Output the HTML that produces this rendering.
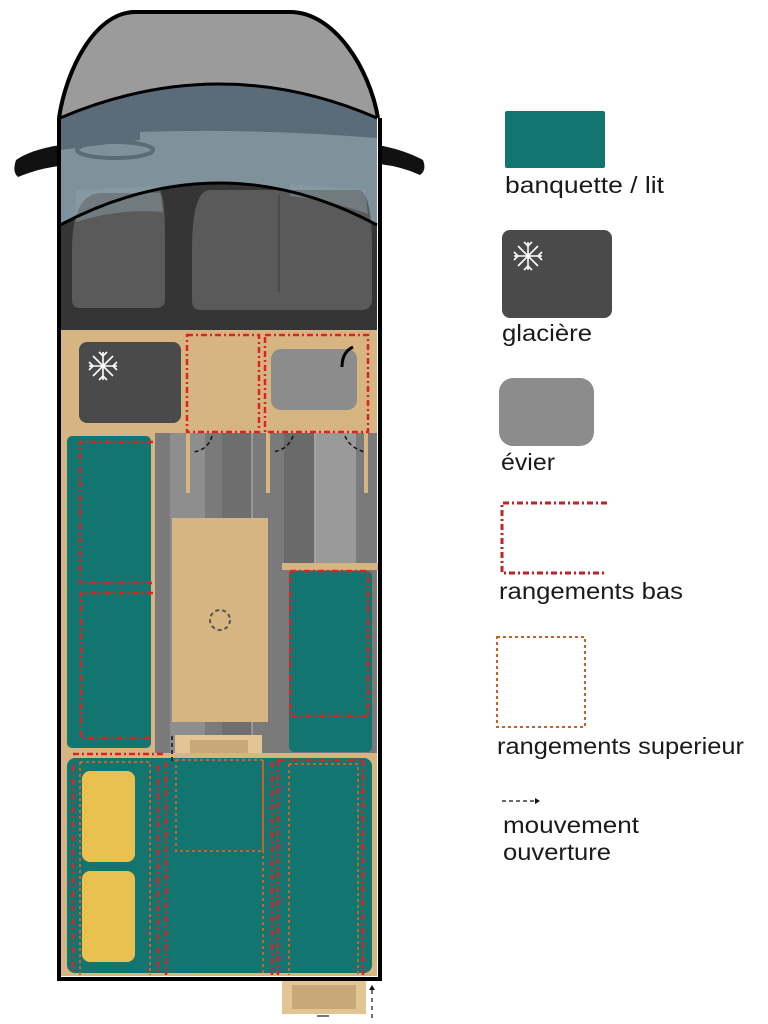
<!DOCTYPE html>
<html><head><meta charset="utf-8"><style>
html,body{margin:0;padding:0;background:#fff;}
svg{display:block;}
text{font-family:"Liberation Sans",sans-serif;fill:#1a1a1a;font-size:23px;}
</style></head><body>
<svg width="768" height="1024" viewBox="0 0 768 1024" xmlns="http://www.w3.org/2000/svg">
<defs>
<g id="flake" stroke="#fff" stroke-width="1.6" fill="none">
<line x1="-14" y1="0" x2="14" y2="0"/><line x1="0" y1="-14" x2="0" y2="14"/>
<line x1="-10" y1="-10" x2="10" y2="10"/><line x1="-10" y1="10" x2="10" y2="-10"/>
<path d="M-4 -14 L0 -10 L4 -14 M-4 14 L0 10 L4 14 M-14 -4 L-10 0 L-14 4 M14 -4 L10 0 L14 4"/>
</g>
</defs>
<path d="M60 145 Q30 150 16 160 Q12 172 18 177 Q40 168 60 166 Z" fill="#111"/>
<path d="M378 145 Q405 150 423 160 Q427 170 420 175 Q400 166 378 164 Z" fill="#111"/>
<path d="M60 330 L60 118 C66 70 95 12 135 12 L290 12 C335 12 368 70 377 118 L377 330 Z" fill="#353535"/>
<path d="M60 118 C66 70 95 12 135 12 L290 12 C335 12 368 70 377 118 Q220 50 60 118 Z" fill="#9b9b9b"/>
<path d="M60 118 Q220 50 377 118 L377 225 Q220 141 60 225 Z" fill="#5b6b77"/>
<path d="M60 150 L140 140 L140 132 Q250 128 377 138 L377 225 Q220 141 60 225 Z" fill="#7f929b"/>
<ellipse cx="115" cy="150" rx="38" ry="8" fill="none" stroke="#5b6b77" stroke-width="4"/>
<path d="M72 250 Q72 195 100 193 L160 193 Q165 195 165 240 L165 300 Q165 308 155 308 L80 308 Q72 308 72 300 Z" fill="#5a5a5a"/>
<path d="M192 250 Q192 190 210 190 L360 190 Q372 195 372 250 L372 300 Q372 310 360 310 L200 310 Q192 310 192 300 Z" fill="#5a5a5a"/>
<path d="M76 190 L160 186 L163 212 Q120 208 76 222 Z" fill="#8ea2aa" opacity="0.45"/>
<path d="M290 184 L365 190 L368 214 Q330 200 290 196 Z" fill="#8ea2aa" opacity="0.45"/>
<line x1="279" y1="195" x2="279" y2="292" stroke="#444" stroke-width="1.5"/>
<path d="M60 118 Q220 50 377 118" fill="none" stroke="#000" stroke-width="3"/>
<path d="M60 225 Q220 141 377 225" fill="none" stroke="#000" stroke-width="3"/>
<rect x="61" y="330" width="316" height="646" fill="#d7b582"/>
<rect x="155" y="433" width="222" height="320" fill="#7a7a7a"/>
<rect x="170" y="433" width="35" height="320" fill="#8e8e8e"/>
<rect x="222" y="433" width="30" height="320" fill="#6e6e6e"/>
<rect x="284" y="433" width="32" height="130" fill="#6a6a6a"/>
<rect x="316" y="433" width="40" height="130" fill="#9a9a9a"/>
<line x1="252" y1="433" x2="252" y2="753" stroke="#bbb" stroke-width="1"/>
<line x1="315" y1="433" x2="315" y2="563" stroke="#ddd" stroke-width="1"/>
<rect x="186" y="433" width="4" height="60" fill="#d7b582"/>
<rect x="266" y="433" width="4" height="60" fill="#d7b582"/>
<rect x="364" y="433" width="4" height="60" fill="#d7b582"/>
<path d="M212 436 Q208 450 193 452 M293 436 Q288 450 272 452 M345 436 Q350 448 365 452" fill="none" stroke="#111" stroke-width="1.5" stroke-dasharray="4 3"/>
<rect x="79" y="342" width="102" height="81" rx="8" fill="#4a4a4a"/>
<use href="#flake" x="103" y="366"/>
<rect x="271" y="349" width="86" height="61" rx="10" fill="#8c8c8c"/>
<path d="M342 367 Q342 352 353 347" fill="none" stroke="#000" stroke-width="3"/>
<g fill="none" stroke="#d22" stroke-width="2.5" stroke-dasharray="6 3 2 3">
<rect x="187" y="335" width="72" height="97"/>
<rect x="265" y="335" width="103" height="97"/>
</g>
<rect x="67" y="436" width="84" height="312" rx="5" fill="#137570"/>
<g fill="none" stroke="#d22" stroke-width="2.5" stroke-dasharray="6 3 2 3">
<path d="M153 442 L80 442 L80 583 L153 583"/>
<path d="M153 593 L81 593 L81 738 L153 738"/>
</g>
<rect x="172" y="518" width="96" height="204" fill="#d7b582"/>
<circle cx="220" cy="620" r="10" fill="none" stroke="#555" stroke-width="2" stroke-dasharray="4 3"/>
<rect x="282" y="563" width="96" height="7" fill="#d7b582"/>
<rect x="289" y="571" width="83" height="181" rx="5" fill="#137570"/>
<rect x="290" y="571" width="78" height="145" fill="none" stroke="#d22" stroke-width="2.5" stroke-dasharray="6 3 2 3"/>
<rect x="175" y="735" width="87" height="18" fill="#e3c593"/>
<rect x="190" y="740" width="58" height="13" fill="#c9a877"/>
<rect x="67" y="758" width="305" height="215" rx="8" fill="#137570"/>
<rect x="82" y="771" width="53" height="91" rx="8" fill="#e9c150"/>
<rect x="82" y="871" width="53" height="91" rx="8" fill="#e9c150"/>
<g fill="none" stroke="#d22" stroke-width="2.5" stroke-dasharray="6 3 2 3">
<path d="M73 754 L165 754"/>
<path d="M73 765 L73 975"/><path d="M158 765 L158 975"/><path d="M166 762 L166 975"/>
<path d="M272 762 L272 975"/><path d="M278 760 L360 760"/><path d="M278 760 L278 975"/><path d="M363 760 L363 975"/>
</g>
<g fill="none" stroke="#c8612a" stroke-width="2" stroke-dasharray="3 3">
<rect x="176" y="760" width="87" height="91"/>
<path d="M80 762 L150 762 L150 975 M80 762 L80 975"/>
<path d="M289 764 L358 764 L358 975 M289 764 L289 975"/>
<path d="M263 760 L263 975"/>
</g>
<line x1="172" y1="736" x2="172" y2="764" stroke="#111" stroke-width="1.5" stroke-dasharray="4 3"/>
<path d="M59 118 C66 70 95 12 135 12 L290 12 C335 12 370 70 378 118" fill="none" stroke="#000" stroke-width="4"/>
<path d="M59 118 L59 979 L380 979 L380 118" fill="none" stroke="#000" stroke-width="4"/>
<rect x="282" y="981" width="84" height="33" fill="#e3c593"/>
<rect x="292" y="985" width="64" height="24" fill="#c9a877"/>
<rect x="317" y="1015" width="12" height="2" fill="#777"/>
<line x1="372" y1="990" x2="372" y2="1022" stroke="#111" stroke-width="1.2" stroke-dasharray="4 4"/>
<path d="M369 990 L372 985 L375 990 Z" fill="#111"/>
<rect x="505" y="111" width="100" height="57" rx="2" fill="#137570"/>
<text x="505" y="193" textLength="159" lengthAdjust="spacingAndGlyphs">banquette / lit</text>
<rect x="502" y="230" width="110" height="88" rx="8" fill="#4a4a4a"/>
<use href="#flake" x="528" y="256"/>
<text x="502" y="341" textLength="90" lengthAdjust="spacingAndGlyphs">glacière</text>
<rect x="499" y="378" width="95" height="68" rx="14" fill="#8c8c8c"/>
<text x="501" y="470" textLength="54" lengthAdjust="spacingAndGlyphs">évier</text>
<path d="M607 503 L502 503 L502 573 L607 573" fill="none" stroke="#c0222a" stroke-width="3" stroke-dasharray="6 3 2 3"/>
<text x="499" y="599" textLength="184" lengthAdjust="spacingAndGlyphs">rangements bas</text>
<rect x="497" y="637" width="88" height="90" fill="none" stroke="#c8612a" stroke-width="2" stroke-dasharray="3 3"/>
<text x="497" y="754" textLength="247" lengthAdjust="spacingAndGlyphs">rangements superieur</text>
<line x1="502" y1="801" x2="535" y2="801" stroke="#111" stroke-width="1.2" stroke-dasharray="4 3"/>
<path d="M535 798 L540 801 L535 804 Z" fill="#111"/>
<text x="503" y="833" textLength="136" lengthAdjust="spacingAndGlyphs">mouvement</text>
<text x="503" y="860" textLength="108" lengthAdjust="spacingAndGlyphs">ouverture</text>
</svg>
</body></html>
